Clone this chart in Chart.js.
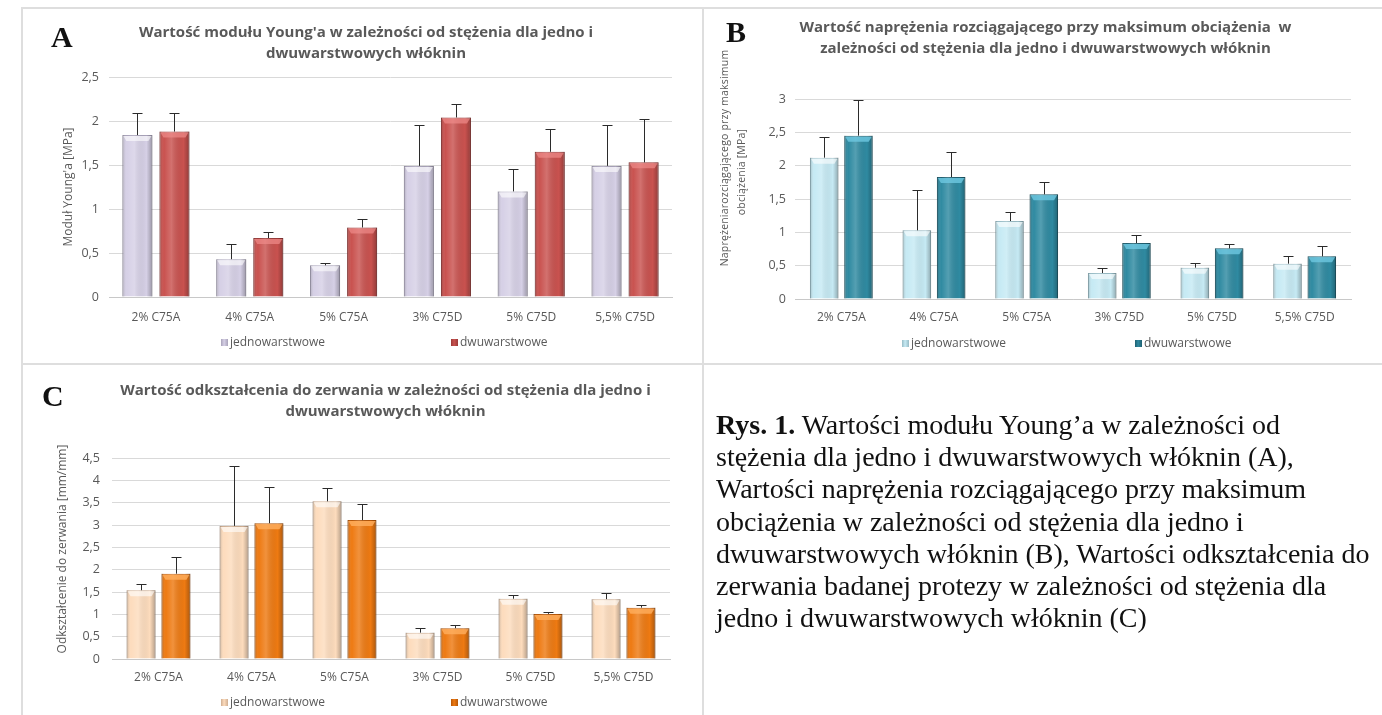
<!DOCTYPE html>
<html lang="pl">
<head>
<meta charset="utf-8">
<title>Rys. 1</title>
<script src="https://cdn.jsdelivr.net/npm/chart.js@4.4.1/dist/chart.umd.min.js"></script>
<style>
  html, body { margin: 0; padding: 0; background: #fff; }
  body { position: relative; width: 1382px; height: 715px; overflow: hidden; font-family: "Open Sans", sans-serif; }
  .panel { position: absolute; box-sizing: border-box; border: 2px solid #dedede; }
  canvas.chart { position: absolute; }
  .letter { position: absolute; font-family: "Liberation Serif", serif; font-weight: bold; font-size: 30px; line-height: 30px; color: #111; }
  .title { position: absolute; text-align: center; font-weight: bold; font-size: 15px; line-height: 21px; color: #595959; white-space: pre; }
  .ytitle { position: absolute; font-size: 12px; color: #595959; white-space: nowrap; transform: translate(-50%, -50%) rotate(-90deg); line-height: 14px; }
  .leg { position: absolute; font-size: 12px; color: #595959; white-space: nowrap; line-height: 13px; }
  .leg i { display: inline-block; width: 7px; height: 7px; margin-right: 2px; vertical-align: 0px; }
  .caption { position: absolute; left: 716px; top: 409px; font-family: "Liberation Serif", serif; font-size: 28px; line-height: 32.2px; color: #111; white-space: nowrap; }
</style>
</head>
<body>

<div class="panel" style="left:21px; top:7px; width:683px; height:358px;"></div>
<div class="panel" style="left:702px; top:7px; width:690px; height:358px;"></div>
<div class="panel" style="left:21px; top:363px; width:683px; height:360px;"></div>
<div class="panel" style="left:702px; top:363px; width:690px; height:360px;"></div>

<canvas id="chartA" class="chart" width="681" height="355" style="left:22px; top:8px;"></canvas>
<canvas id="chartB" class="chart" width="679" height="355" style="left:703px; top:8px;"></canvas>
<canvas id="chartC" class="chart" width="681" height="349" style="left:22px; top:366px;"></canvas>

<div class="letter" style="left:51px; top:22px;">A</div>
<div class="letter" style="left:726px; top:17px;">B</div>
<div class="letter" style="left:42px; top:381px;">C</div>

<div id="titleA" class="title" style="left:22px; width:688px; top:21px;"></div>
<div id="titleB" class="title" style="left:703px; width:685px; top:16px;"></div>
<div id="titleC" class="title" style="left:22px; width:727px; top:379px;"></div>

<div id="yTitleA" class="ytitle" style="left:68px; top:187px;"></div>
<div id="yTitleB1" class="ytitle" style="left:724px; top:158px; font-size:10.5px; letter-spacing:0.2px;"></div>
<div id="yTitleB2" class="ytitle" style="left:741px; top:172px; font-size:10.5px; letter-spacing:0.2px;"></div>
<div id="yTitleC" class="ytitle" style="left:62px; top:549px;"></div>

<div id="legA"></div>
<div id="legB"></div>
<div id="legC"></div>

<div class="caption">
<b>Rys. 1.</b> Wartości modułu Young’a w zależności od<br>
stężenia dla jedno i dwuwarstwowych włóknin (A),<br>
Wartości naprężenia rozciągającego przy maksimum<br>
obciążenia w zależności od stężenia dla jedno i<br>
dwuwarstwowych włóknin (B), Wartości odkształcenia do<br>
zerwania badanej protezy w zależności od stężenia dla<br>
jedno i dwuwarstwowych włóknin (C)
</div>

<script>
// ===== DATA =====
const categories = ["2% C75A", "4% C75A", "5% C75A", "3% C75D", "5% C75D", "5,5% C75D"];
const seriesNames = ["jednowarstwowe", "dwuwarstwowe"];

// A: moduł Younga [MPa] (średnia + odchylenie w górę)
const titleA = ["Wartość modułu Young'a w zależności od stężenia dla jedno i", "dwuwarstwowych włóknin"];
const yTitleA = "Moduł Young'a [MPa]";
const youngJedno = [1.84, 0.43, 0.36, 1.49, 1.20, 1.49];
const youngJednoSd = [0.25, 0.17, 0.03, 0.47, 0.25, 0.46];
const youngDwu = [1.88, 0.67, 0.79, 2.04, 1.65, 1.53];
const youngDwuSd = [0.21, 0.07, 0.10, 0.15, 0.26, 0.49];
const youngMax = 2.5;

// B: naprężenie rozciągające przy maksimum obciążenia [MPa]
const titleB = ["Wartość naprężenia rozciągającego przy maksimum obciążenia  w", "zależności od stężenia dla jedno i dwuwarstwowych włóknin"];
const yTitleB = ["Naprężeniarozciągającego przy maksimum", "obciążenia [MPa]"];
const naprJedno = [2.12, 1.03, 1.17, 0.39, 0.47, 0.53];
const naprJednoSd = [0.31, 0.61, 0.13, 0.07, 0.07, 0.12];
const naprDwu = [2.45, 1.83, 1.57, 0.84, 0.76, 0.64];
const naprDwuSd = [0.54, 0.38, 0.18, 0.12, 0.07, 0.15];
const naprMax = 3;

// C: odkształcenie do zerwania [mm/mm]
const titleC = ["Wartość odkształcenia do zerwania w zależności od stężenia dla jedno i", "dwuwarstwowych włóknin"];
const yTitleC = "Odkształcenie do zerwania [mm/mm]";
const odkJedno = [1.54, 2.98, 3.53, 0.59, 1.35, 1.34];
const odkJednoSd = [0.15, 1.35, 0.29, 0.10, 0.09, 0.13];
const odkDwu = [1.91, 3.04, 3.11, 0.69, 1.01, 1.15];
const odkDwuSd = [0.38, 0.82, 0.35, 0.08, 0.05, 0.06];
const odkMax = 4.5;

const TEXT = "#595959";
Chart.defaults.font.family = "'Open Sans', sans-serif";

// excel-like bevel + error bars (plus only)
const barLook = {
  id: "barLook",
  afterDatasetsDraw(chart) {
    const ctx = chart.ctx;
    const yScale = chart.scales.y;
    chart.data.datasets.forEach((ds, di) => {
      const meta = chart.getDatasetMeta(di);
      meta.data.forEach((bar) => {
        const { x, y, base, width } = bar.getProps(["x", "y", "base", "width"], true);
        const l = x - width / 2, r = x + width / 2;
        const g = ctx.createLinearGradient(l, 0, r, 0);
        g.addColorStop(0, "rgba(0,0,0,0.22)");
        g.addColorStop(0.15, "rgba(255,255,255,0)");
        g.addColorStop(0.4, "rgba(255,255,255,0.18)");
        g.addColorStop(0.8, "rgba(0,0,0,0)");
        g.addColorStop(1, "rgba(0,0,0,0.28)");
        ctx.save();
        ctx.fillStyle = g;
        ctx.fillRect(l, y, width, base - y);
        ctx.fillStyle = ds.bevelColor;
        ctx.beginPath();
        ctx.moveTo(l + 1, y + 1);
        ctx.lineTo(r - 1, y + 1);
        ctx.lineTo(r - 4, y + 6);
        ctx.lineTo(l + 4, y + 6);
        ctx.closePath();
        ctx.fill();
        ctx.restore();
      });
    });
    ctx.save();
    ctx.strokeStyle = "#2b2b2b";
    ctx.lineWidth = 1;
    chart.data.datasets.forEach((ds, di) => {
      const meta = chart.getDatasetMeta(di);
      meta.data.forEach((bar, i) => {
        const { x, y } = bar.getProps(["x", "y"], true);
        const top = Math.round(yScale.getPixelForValue(ds.data[i] + ds.sd[i])) + 0.5;
        const cx = Math.round(x) + 0.5;
        ctx.beginPath();
        ctx.moveTo(cx, y);
        ctx.lineTo(cx, top);
        ctx.moveTo(cx - 5, top);
        ctx.lineTo(cx + 5, top);
        ctx.stroke();
      });
    });
    ctx.restore();
  }
};

function makeChart(id, cfg) {
  return new Chart(document.getElementById(id), {
    type: "bar",
    data: {
      labels: categories,
      datasets: [
        { label: seriesNames[0], data: cfg.jedno, sd: cfg.jednoSd, backgroundColor: cfg.fill[0], borderColor: cfg.edge[0], borderWidth: 1, bevelColor: cfg.bevel[0] },
        { label: seriesNames[1], data: cfg.dwu, sd: cfg.dwuSd, backgroundColor: cfg.fill[1], borderColor: cfg.edge[1], borderWidth: 1, bevelColor: cfg.bevel[1] },
      ],
    },
    options: {
      responsive: false,
      animation: false,
      devicePixelRatio: 1,
      layout: { padding: cfg.pad },
      datasets: { bar: { categoryPercentage: cfg.catPct, barPercentage: cfg.barPct } },
      plugins: { legend: { display: false }, tooltip: { enabled: false } },
      scales: {
        x: {
          grid: { display: false },
          border: { display: true, color: "#c8c8c8" },
          ticks: { color: TEXT, padding: cfg.xPad, font: { size: 12 }, maxRotation: 0, autoSkip: false },
          afterFit: (s) => { s.height = 40; },
        },
        y: {
          min: 0,
          max: cfg.max,
          ticks: { stepSize: 0.5, color: TEXT, padding: cfg.yPad, font: { size: 12.5 }, callback: (v) => String(v).replace(".", ",") },
          grid: { color: "#d9d9d9", drawTicks: false },
          border: { display: false },
          afterFit: (s) => { s.width = cfg.yWidth; },
        },
      },
    },
    plugins: [barLook],
  });
}

makeChart("chartA", {
  jedno: youngJedno, jednoSd: youngJednoSd, dwu: youngDwu, dwuSd: youngDwuSd, max: youngMax,
  fill: ["#d6d0e6", "#c9524f"], edge: ["#a9a3ba", "#9a3a38"], bevel: ["rgba(255,255,255,0.6)", "rgba(240,140,138,0.7)"],
  pad: { left: 20, right: 31, top: 69, bottom: 26 }, yWidth: 67, yPad: 10, xPad: 5, catPct: 0.79, barPct: 0.81,
});

makeChart("chartB", {
  jedno: naprJedno, jednoSd: naprJednoSd, dwu: naprDwu, dwuSd: naprDwuSd, max: naprMax,
  fill: ["#c6eaf4", "#2f8aa1"], edge: ["#98bcc6", "#1f5f70"], bevel: ["rgba(255,255,255,0.6)", "rgba(110,200,225,0.8)"],
  pad: { left: 16, right: 31, top: 91, bottom: 24 }, yWidth: 76, yPad: 9, xPad: 3, catPct: 0.74, barPct: 0.83,
});

makeChart("chartC", {
  jedno: odkJedno, jednoSd: odkJednoSd, dwu: odkDwu, dwuSd: odkDwuSd, max: odkMax,
  fill: ["#fddcbd", "#ee7a12"], edge: ["#cfae92", "#b65708"], bevel: ["rgba(255,255,255,0.6)", "rgba(255,175,95,0.8)"],
  pad: { left: 20, right: 33, top: 92, bottom: 16 }, yWidth: 70, yPad: 12, xPad: 3, catPct: 0.75, barPct: 0.83,
});

// titles
document.getElementById("titleA").textContent = titleA.join("\n");
document.getElementById("titleB").textContent = titleB.join("\n");
document.getElementById("titleC").textContent = titleC.join("\n");
document.getElementById("yTitleA").textContent = yTitleA;
document.getElementById("yTitleB1").textContent = yTitleB[0];
document.getElementById("yTitleB2").textContent = yTitleB[1];
document.getElementById("yTitleC").textContent = yTitleC;

// legends (html)
function legend(id, xs, y, colors) {
  const box = document.getElementById(id);
  seriesNames.forEach((name, i) => {
    const d = document.createElement("div");
    d.className = "leg";
    d.style.left = xs[i] + "px";
    d.style.top = (y - 7) + "px";
    d.innerHTML = `<i style="background:linear-gradient(90deg, ${colors[i][1]}, ${colors[i][0]} 45%, ${colors[i][1]})"></i>${name}`;
    box.appendChild(d);
  });
}
legend("legA", [221, 451], 342, [["#d6d0e6", "#a9a3ba"], ["#c9524f", "#9a3a38"]]);
legend("legB", [902, 1135], 343, [["#c6eaf4", "#98bcc6"], ["#2f8aa1", "#1f5f70"]]);
legend("legC", [221, 451], 702, [["#fddcbd", "#cfae92"], ["#ee7a12", "#b65708"]]);
</script>
</body>
</html>
